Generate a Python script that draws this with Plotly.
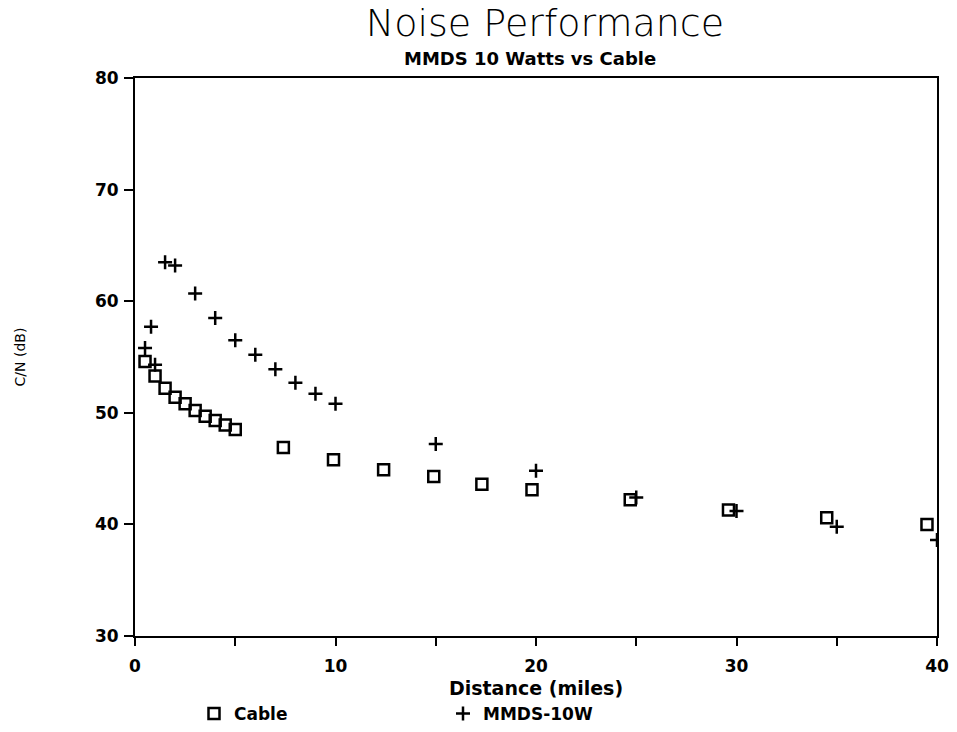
import plotly.graph_objects as go

# Data
cable_miles = [0.5, 1.0, 1.5, 2.0, 2.5, 3.0, 3.5, 4.0, 4.5, 5.0,
               7.4, 9.9, 12.4, 14.9, 17.3, 19.8, 24.7, 29.6, 34.5, 39.5]
cable_cn = [54.6, 53.3, 52.2, 51.4, 50.8, 50.2, 49.7, 49.3, 48.9, 48.5,
            46.9, 45.8, 44.9, 44.3, 43.6, 43.1, 42.2, 41.3, 40.6, 40.0]

mmds_miles = [0.5, 0.8, 1.0, 1.5, 2.0, 3.0, 4.0, 5.0, 6.0, 7.0, 8.0, 9.0, 10.0,
              15.0, 20.0, 25.0, 30.0, 35.0, 40.0]
mmds_cn = [55.8, 57.7, 54.3, 63.5, 63.2, 60.7, 58.5, 56.5, 55.2, 53.9, 52.7, 51.7, 50.8,
           47.2, 44.8, 42.4, 41.2, 39.8, 38.6]

x_ticks = [0, 10, 20, 30, 40]
y_ticks = [30, 40, 50, 60, 70, 80]

FONT = "DejaVu Sans"

fig = go.Figure()
fig.add_trace(go.Scatter(
    x=cable_miles, y=cable_cn, mode="markers", name="Cable",
    marker=dict(symbol="square-open", size=11, color="black",
                line=dict(width=2.5, color="black")),
))
fig.add_trace(go.Scatter(
    x=mmds_miles, y=mmds_cn, mode="markers", name="MMDS-10W",
    marker=dict(symbol="cross-thin-open", size=10, color="black",
                line=dict(width=2.5, color="black")),
))

fig.update_layout(
    width=957, height=732,
    margin=dict(l=135, r=20, t=78, b=96, autoexpand=False),
    paper_bgcolor="white", plot_bgcolor="white",
    showlegend=True,
    title=dict(text="Noise Performance", x=545 / 957, xanchor="center",
               y=1 - 23 / 732, yanchor="middle",
               font=dict(family=FONT, size=38, color="black", weight=200)),
    legend=dict(orientation="h", x=(214 - 135 - 20) / 802, xanchor="left",
                y=-(714 - 636) / 558, yanchor="middle",
                entrywidth=204, entrywidthmode="pixels",
                font=dict(family=FONT, size=17, color="black", weight="bold"),
                bgcolor="rgba(0,0,0,0)"),
    annotations=[dict(text="MMDS 10 Watts vs Cable", xref="paper", yref="paper",
                      x=(530 - 135) / 802, y=1.0 + (78 - 58) / 558,
                      xanchor="center", yanchor="middle", showarrow=False,
                      font=dict(family=FONT, size=18, color="black", weight="bold"))],
)

fig.update_xaxes(
    range=[0, 40], tickvals=x_ticks, ticktext=[str(v) for v in x_ticks],
    showgrid=False, zeroline=False, automargin=False,
    showline=True, mirror=True, linecolor="black", linewidth=2,
    ticks="outside", ticklen=8, tickwidth=2, tickcolor="black",
    ticklabelstandoff=6,
    minor=dict(dtick=5, ticks="outside", ticklen=8, tickwidth=2, tickcolor="black"),
    tickfont=dict(family=FONT, size=17, color="black", weight="bold"),
    title=dict(text="Distance (miles)", standoff=6,
               font=dict(family=FONT, size=19, color="black", weight="bold")),
)
fig.update_yaxes(
    range=[30, 80], tickvals=y_ticks, ticktext=[str(v) for v in y_ticks],
    showgrid=False, zeroline=False, automargin=False,
    showline=True, mirror=True, linecolor="black", linewidth=2,
    ticks="outside", ticklen=9, tickwidth=2, tickcolor="black",
    ticklabelstandoff=2,
    tickfont=dict(family=FONT, size=17, color="black", weight="bold"),
    title=dict(text="C/N (dB)", standoff=66,
               font=dict(family=FONT, size=14, color="black")),
)

fig.write_html("out.html")
